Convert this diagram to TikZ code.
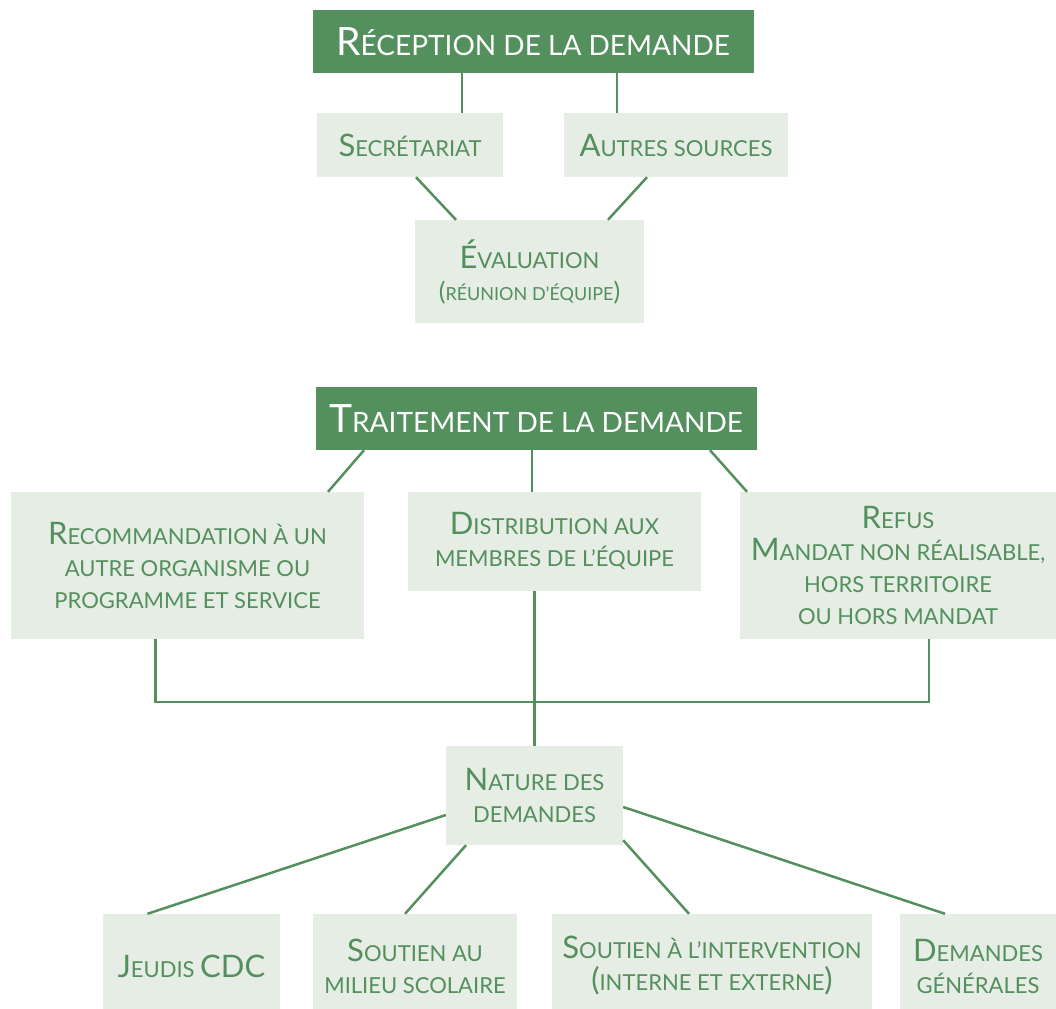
\documentclass[tikz,border=0pt]{standalone}
\usepackage{fontspec}
\setmainfont{Lato}
\definecolor{dkgreen}{RGB}{84,143,94}
\definecolor{ltgreen}{RGB}{229,237,228}
\newcommand{\Ini}[1]{{\fontsize{31}{32}\selectfont #1}}
\newcommand{\TIni}[1]{{\fontsize{39}{40}\selectfont #1}}
\tikzset{
  title/.style={fill=dkgreen, text=white, inner sep=0pt, font=\fontsize{28}{40}\selectfont},
  box/.style={fill=ltgreen, text=dkgreen, inner sep=0pt, align=center, font=\fontsize{22}{32}\selectfont},
  link/.style={draw=dkgreen, line width=2.5pt}
}
\begin{document}
\begin{tikzpicture}[x=1pt, y=-1pt]
  \useasboundingbox (0,0) rectangle (1056,1008);
  \node[title, minimum width=441pt, minimum height=63pt] (rec) at (533,41.5) {\TIni{R}ÉCEPTION DE LA DEMANDE};
  \node[box, minimum width=186pt, minimum height=64pt] (sec) at (410,145) {\Ini{S}ECRÉTARIAT};
  \node[box, minimum width=224pt, minimum height=64pt] (autres) at (676,145) {\Ini{A}UTRES SOURCES};
  \node[box, minimum width=229pt, minimum height=103pt] (eval) at (529.5,271.5)
    {\Ini{É}VALUATION\\{\fontsize{18}{32}\selectfont{\fontsize{25}{32}\selectfont(}RÉUNION D’ÉQUIPE{\fontsize{25}{32}\selectfont)}}};
  \draw[link] ([xshift=52pt]sec.north) -- ([xshift=52pt]sec.north |- rec.south);
  \draw[link] ([xshift=-59pt]autres.north) -- ([xshift=-59pt]autres.north |- rec.south);
  \draw[link] ([xshift=6pt]sec.south) -- ([xshift=-73.5pt]eval.north);
  \draw[link] ([xshift=-29pt]autres.south) -- ([xshift=78.5pt]eval.north);

  \node[title, minimum width=441pt, minimum height=63pt] (trait) at (536,418.5) {\TIni{T}RAITEMENT DE LA DEMANDE};
  \node[box, minimum width=353pt, minimum height=147pt] (recom) at (187.5,565.5)
    {\Ini{R}ECOMMANDATION À UN\\AUTRE ORGANISME OU\\PROGRAMME ET SERVICE};
  \node[box, minimum width=293pt, minimum height=99pt] (distrib) at (554.5,541.5)
    {\Ini{D}ISTRIBUTION AUX\\MEMBRES DE L’ÉQUIPE};
  \node[box, minimum width=316pt, minimum height=147pt] (refus) at (898,565.5)
    {\Ini{R}EFUS\\\Ini{M}ANDAT NON RÉALISABLE,\\HORS TERRITOIRE\\OU HORS MANDAT};
  \draw[link] ([xshift=-172pt]trait.south) -- ([xshift=140.5pt]recom.north);
  \draw[link] ([xshift=-22.5pt]distrib.north) -- ([xshift=-22.5pt]distrib.north |- trait.south);
  \draw[link] ([xshift=174pt]trait.south) -- ([xshift=-151pt]refus.north);

  \node[box, minimum width=177pt, minimum height=99pt] (nature) at (534.5,795.5)
    {\Ini{N}ATURE DES\\DEMANDES};
  \draw[link] ([xshift=-32pt]recom.south) -- ++(0,63) -| ([xshift=31pt]refus.south);
  \draw[link] (nature.north) -- (nature.north |- distrib.south);

  \node[box, minimum width=177pt, minimum height=104pt] (jeudis) at (191.5,966) {\Ini{J}EUDIS \Ini{CDC}};
  \node[box, minimum width=204pt, minimum height=104pt] (milieu) at (415,966) {\Ini{S}OUTIEN AU\\MILIEU SCOLAIRE};
  \node[box, minimum width=320pt, minimum height=104pt] (interv) at (712,966)
    {\Ini{S}OUTIEN À L’INTERVENTION\\\Ini{(}INTERNE ET EXTERNE\Ini{)}};
  \node[box, minimum width=156pt, minimum height=104pt] (generales) at (978,966) {\Ini{D}EMANDES\\GÉNÉRALES};
  \draw[link] ([yshift=-19.5pt]nature.west) -- ([xshift=-44pt]jeudis.north);
  \draw[link] ([xshift=-68.5pt]nature.south) -- ([xshift=-10pt]milieu.north);
  \draw[link] ([yshift=5pt]nature.south east) -- ([xshift=-23pt]interv.north);
  \draw[link] ([yshift=-11.5pt]nature.east) -- ([xshift=-33pt]generales.north);
\end{tikzpicture}
\end{document}
